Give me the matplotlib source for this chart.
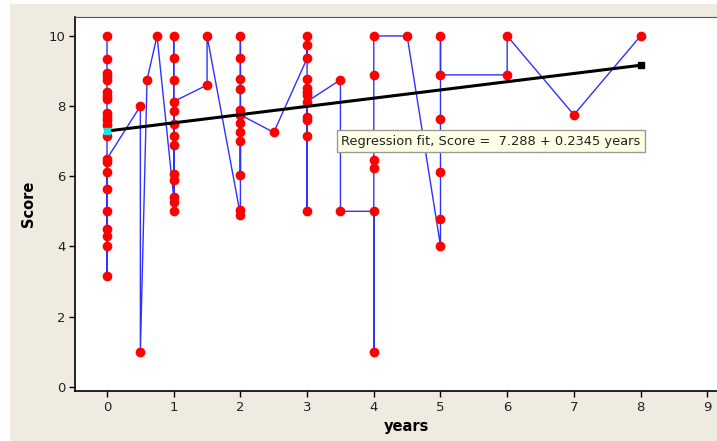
import matplotlib
matplotlib.use("Agg")
import matplotlib.pyplot as plt
import numpy as np
from matplotlib.patches import Rectangle

# data in plotting order (the blue line joins points in this order)
years = [0] * 22 + [0.5, 0.5, 0.6, 0.75] + [1] * 13 + [1.5, 1.5] + [2] * 12 + [2.5] \
        + [3] * 12 + [3.5, 3.5] + [4] * 6 + [4.5] + [5] * 6 + [6, 6, 7, 8]
score = [10, 9.35, 8.95, 8.85, 8.75, 8.4, 8.3, 8.2, 7.8, 7.7, 7.6, 7.45, 7.15,
         6.4, 6.13, 5.63, 5.0, 4.5, 4.3, 4.0, 3.15, 6.5,
         8.0, 1.0, 8.75, 10,
         5.4, 10, 9.36, 8.75, 7.87, 7.5, 7.15, 6.9, 6.07, 5.9, 5.27, 5.0, 8.13,
         8.6, 10,
         4.9, 5.04, 10, 9.36, 8.77, 8.48, 7.89, 7.51, 7.27, 7.01, 6.04, 7.75,
         7.25,
         9.36, 10, 9.74, 8.77, 8.52, 8.4, 8.32, 7.7, 7.6, 7.15, 5.0, 8.13,
         8.75, 5.0,
         5.0, 1.0, 6.23, 6.46, 8.89, 10,
         10,
         4.02, 4.77, 6.13, 7.63, 10, 8.89,
         8.89, 10, 7.75, 10]

b0 = 7.288
b1 = 0.2345
fit_x = [0, 8]

xticks = list(range(10))
yticks = [0, 2, 4, 6, 8, 10]

fig = plt.figure(figsize=(7.17, 4.41), dpi=100)
fig.patch.set_facecolor("white")
fig.patches.append(Rectangle((10 / 717, 0), 1, 1 - 4 / 441, transform=fig.transFigure,
                             facecolor="#efebe1", edgecolor="none", zorder=-10))

# axes run past the right edge of the picture, as in the reference
ax = fig.add_axes([75 / 717, 1 - 391 / 441, 1 - 75 / 717 + 0.03, (391 - 17) / 441])
ax.set_facecolor("white")
ax.patch.set_edgecolor("none")

ax.plot(years, score, color="#3030ff", linewidth=1, zorder=2)
ax.plot(years, score, linestyle="none", marker="o", markersize=6,
        markerfacecolor="red", markeredgecolor="red", zorder=3)

fit_y = [b0 + b1 * v for v in fit_x]
ax.plot(fit_x, fit_y, color="black", linewidth=2.2, zorder=4)
ax.plot(fit_x[0], fit_y[0], marker="s", markersize=5, color="#20e0e0", zorder=5)
ax.plot(fit_x[1], fit_y[1], marker="s", markersize=5, color="black", zorder=5)

ax.text(3.51, 7.0, "Regression fit, Score =  %.3f + %.4f years" % (b0, b1),
        fontsize=9.4, color="#222222", va="center", ha="left", zorder=6,
        bbox=dict(boxstyle="square,pad=0.35", facecolor="#ffffe6", edgecolor="#9a9a9a", linewidth=1))

ax.set_xlim(-0.48, 9.146 + 0.03 * 717 / 66.7)
ax.set_ylim(-0.123, 10.54)
ax.set_xticks(xticks)
ax.set_yticks(yticks)
ax.tick_params(direction="out", length=4, width=1, labelsize=9.5, colors="black",
               labelcolor="#222222", pad=3)

ax.spines["right"].set_visible(False)
ax.spines["top"].set_color("#555555")
for s in ("left", "bottom"):
    ax.spines[s].set_color("black")
    ax.spines[s].set_linewidth(1.2)

ax.set_xlabel("years", fontsize=10.5, fontweight="bold", labelpad=4)
ax.set_ylabel("Score", fontsize=10.5, fontweight="bold", labelpad=9)

fig.savefig("out.png", dpi=100)
